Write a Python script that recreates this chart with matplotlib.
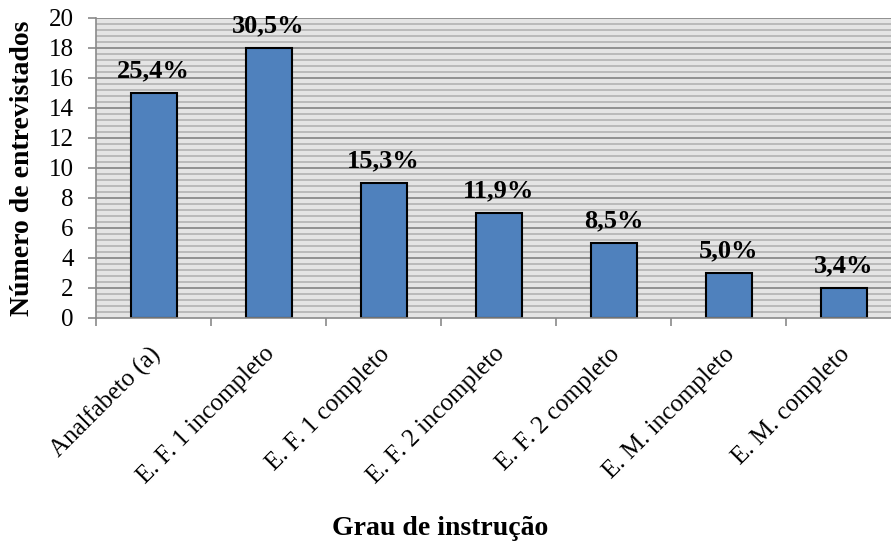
import numpy as np
import matplotlib.pyplot as plt
import matplotlib.transforms as mtransforms
from matplotlib.ticker import MultipleLocator, FixedLocator

plt.rcParams['font.family'] = ['Liberation Serif', 'DejaVu Serif']

categorias = ['Analfabeto (a)', 'E. F. 1 incompleto', 'E. F. 1 completo',
              'E. F. 2 incompleto', 'E. F. 2 completo', 'E. M. incompleto',
              'E. M. completo']
entrevistados = [15, 18, 9, 7, 5, 3, 2]
percentuais = ['25,4%', '30,5%', '15,3%', '11,9%', '8,5%', '5,0%', '3,4%']

fig = plt.figure(figsize=(8.91, 5.42), dpi=100)
# area do grafico passa um pouco da borda direita
ax = fig.add_axes([96/891, 1 - 318/542, 805/891, 300/542])

x = np.arange(len(categorias))
ax.set_xlim(-0.5, len(categorias) - 0.5)
ax.set_ylim(0, 20)

# fundo listrado
ax.set_facecolor('#e4e4e4')
for yy in np.arange(0.4, 20, 0.4):
    if abs(yy / 2 - round(yy / 2)) > 1e-6:
        ax.axhline(yy, color='#b6b6b6', lw=1.3, zorder=0.5)
for yy in range(2, 21, 2):
    ax.axhline(yy, color='#8a8a8a', lw=1.3, zorder=0.6)

barras = ax.bar(x, entrevistados, width=0.4, color='#4f81bd',
                edgecolor='black', linewidth=1.5, zorder=2)

for xi, v, p in zip(x, entrevistados, percentuais):
    ax.annotate(p, (xi, v), xytext=(0, 8), textcoords='offset points',
                ha='center', va='bottom', fontsize=19, fontweight='bold')

ax.yaxis.set_major_locator(MultipleLocator(2))
ax.set_xticks(x)
ax.set_xticklabels(categorias, rotation=45, ha='right', rotation_mode='anchor')
ax.xaxis.set_minor_locator(FixedLocator(np.arange(-0.5, len(categorias), 1)))
ax.tick_params(axis='x', which='major', length=0, labelsize=18, pad=18)
ax.tick_params(axis='x', which='minor', length=6, color='#8a8a8a', width=1.2)
ax.tick_params(axis='y', length=6, color='#8a8a8a', width=1.2, labelsize=18, pad=10)

# desloca os rotulos inclinados um pouco para a esquerda
desloc = mtransforms.ScaledTranslation(-5/100, 0, fig.dpi_scale_trans)
for lbl in ax.get_xticklabels():
    lbl.set_transform(lbl.get_transform() + desloc)

for s in ['top', 'right']:
    ax.spines[s].set_visible(False)
for s in ['left', 'bottom']:
    ax.spines[s].set_color('#8a8a8a')
    ax.spines[s].set_linewidth(1.2)

fig.text(23/891, 1 - 168/542, 'Número de entrevistados', rotation=90,
         ha='center', va='center', fontsize=20, fontweight='bold')
fig.text(440/891, 1 - 535/542, 'Grau de instrução', ha='center', va='baseline',
         fontsize=20, fontweight='bold')

fig.savefig('out.png', dpi=100)
